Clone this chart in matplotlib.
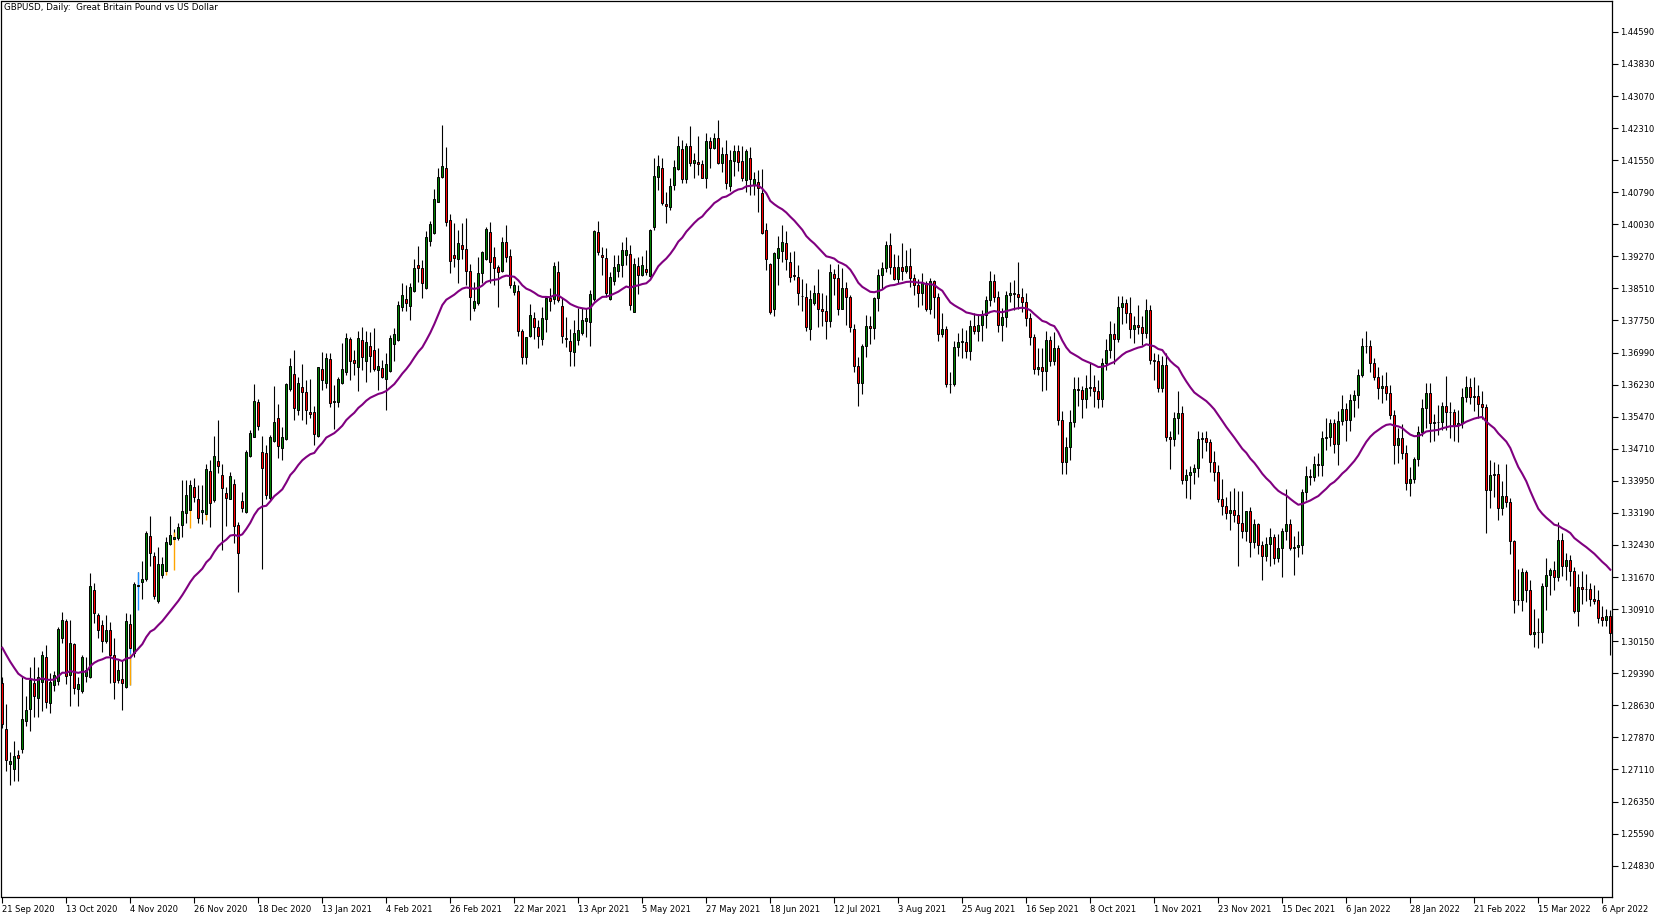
import numpy as np
import matplotlib
matplotlib.use('Agg')
import matplotlib.pyplot as plt

# GBPUSD daily candles (bar 0 = 21 Sep 2020)
chart_title = 'GBPUSD, Daily:  Great Britain Pound vs US Dollar'
date_labels = ['21 Sep 2020', '13 Oct 2020', '4 Nov 2020', '26 Nov 2020', '18 Dec 2020',
               '13 Jan 2021', '4 Feb 2021', '26 Feb 2021', '22 Mar 2021', '13 Apr 2021',
               '5 May 2021', '27 May 2021', '18 Jun 2021', '12 Jul 2021', '3 Aug 2021',
               '25 Aug 2021', '16 Sep 2021', '8 Oct 2021', '1 Nov 2021', '23 Nov 2021',
               '15 Dec 2021', '6 Jan 2022', '28 Jan 2022', '21 Feb 2022', '15 Mar 2022',
               '6 Apr 2022']

opens = [1.2917, 1.2807, 1.2725, 1.2712, 1.2745, 1.2760, 1.2827, 1.2854, 1.2915, 1.2880,
         1.2919, 1.2978, 1.2869, 1.2910, 1.2921, 1.3023, 1.3063, 1.2935, 1.3008, 1.2902,
         1.2898, 1.2933, 1.2931, 1.3136, 1.3077, 1.3053, 1.3016, 1.3041, 1.2982, 1.2923,
         1.2925, 1.2906, 1.3056, 1.2986, 1.3146, 1.3156, 1.3162, 1.3264, 1.3217, 1.3111,
         1.3173, 1.3181, 1.3245, 1.3258, 1.3260, 1.3290, 1.3318, 1.3326, 1.3380, 1.3351,
         1.3322, 1.3316, 1.3418, 1.3350, 1.3443, 1.3410, 1.3365, 1.3353, 1.3387, 1.3290,
         1.3347, 1.3320, 1.3455, 1.3500, 1.3581, 1.3464, 1.3462, 1.3354, 1.3490, 1.3545,
         1.3472, 1.3494, 1.3612, 1.3648, 1.3564, 1.3617, 1.3605, 1.3557, 1.3557, 1.3502,
         1.3659, 1.3626, 1.3683, 1.3583, 1.3583, 1.3628, 1.3654, 1.3731, 1.3681, 1.3664,
         1.3729, 1.3680, 1.3714, 1.3705, 1.3658, 1.3662, 1.3636, 1.3656, 1.3719, 1.3729,
         1.3808, 1.3826, 1.3810, 1.3846, 1.3907, 1.3899, 1.3851, 1.3964, 1.3982, 1.4057,
         1.4114, 1.4136, 1.4013, 1.3930, 1.3921, 1.3954, 1.3944, 1.3892, 1.3805, 1.3816,
         1.3887, 1.3921, 1.3984, 1.3925, 1.3901, 1.3892, 1.3960, 1.3928, 1.3842, 1.3846,
         1.3749, 1.3688, 1.3739, 1.3782, 1.3759, 1.3731, 1.3779, 1.3828, 1.3825, 1.3891,
         1.3810, 1.3734, 1.3727, 1.3701, 1.3729, 1.3745, 1.3774, 1.3772, 1.3827, 1.3984,
         1.3930, 1.3924, 1.3827, 1.3869, 1.3893, 1.3907, 1.3930, 1.3932, 1.3796, 1.3904,
         1.3883, 1.3897, 1.3881, 1.3997, 1.4116, 1.4136, 1.4051, 1.4043, 1.4095, 1.4133,
         1.4181, 1.4110, 1.4189, 1.4148, 1.4151, 1.4146, 1.4113, 1.4200, 1.4183, 1.4207,
         1.4148, 1.4170, 1.4094, 1.4154, 1.4177, 1.4153, 1.4108, 1.4159, 1.4096, 1.4104,
         1.4078, 1.3990, 1.3910, 1.3802, 1.3924, 1.3940, 1.3959, 1.3913, 1.3883, 1.3878,
         1.3834, 1.3830, 1.3754, 1.3817, 1.3839, 1.3803, 1.3797, 1.3774, 1.3885, 1.3876,
         1.3803, 1.3853, 1.3830, 1.3755, 1.3667, 1.3627, 1.3715, 1.3763, 1.3758, 1.3828,
         1.3883, 1.3899, 1.3955, 1.3902, 1.3874, 1.3902, 1.3892, 1.3904, 1.3875, 1.3858,
         1.3841, 1.3865, 1.3802, 1.3868, 1.3830, 1.3743, 1.3756, 1.3625, 1.3625, 1.3712,
         1.3725, 1.3725, 1.3703, 1.3762, 1.3751, 1.3764, 1.3789, 1.3824, 1.3868, 1.3831,
         1.3765, 1.3784, 1.3835, 1.3840, 1.3837, 1.3831, 1.3820, 1.3782, 1.3735, 1.3660,
         1.3665, 1.3655, 1.3729, 1.3678, 1.3710, 1.3540, 1.3440, 1.3475, 1.3534, 1.3612,
         1.3611, 1.3590, 1.3616, 1.3618, 1.3607, 1.3590, 1.3675, 1.3706, 1.3744, 1.3732,
         1.3806, 1.3817, 1.3793, 1.3754, 1.3765, 1.3760, 1.3745, 1.3800, 1.3682, 1.3679,
         1.3614, 1.3670, 1.3500, 1.3495, 1.3544, 1.3556, 1.3398, 1.3410, 1.3415, 1.3426,
         1.3494, 1.3496, 1.3486, 1.3440, 1.3415, 1.3353, 1.3336, 1.3318, 1.3327, 1.3315,
         1.3294, 1.3275, 1.3323, 1.3251, 1.3292, 1.3243, 1.3218, 1.3245, 1.3263, 1.3213,
         1.3236, 1.3275, 1.3292, 1.3235, 1.3238, 1.3244, 1.3369, 1.3406, 1.3404, 1.3434,
         1.3432, 1.3497, 1.3500, 1.3531, 1.3482, 1.3536, 1.3566, 1.3539, 1.3586, 1.3598,
         1.3647, 1.3714, 1.3714, 1.3675, 1.3640, 1.3615, 1.3620, 1.3604, 1.3552, 1.3480,
         1.3497, 1.3462, 1.3390, 1.3400, 1.3447, 1.3510, 1.3568, 1.3604, 1.3531, 1.3534,
         1.3535, 1.3572, 1.3558, 1.3559, 1.3527, 1.3532, 1.3594, 1.3618, 1.3593, 1.3595,
         1.3578, 1.3569, 1.3373, 1.3410, 1.3411, 1.3331, 1.3359, 1.3345, 1.3252, 1.3113,
         1.3112, 1.3178, 1.3136, 1.3033, 1.3036, 1.3036, 1.3146, 1.3172, 1.3183, 1.3166,
         1.3254, 1.3194, 1.3207, 1.3181, 1.3086, 1.3144, 1.3139, 1.3139, 1.3114, 1.3112,
         1.3072, 1.3066, 1.3075]
highs = [1.2930, 1.2866, 1.2753, 1.2778, 1.2757, 1.2931, 1.2884, 1.2953, 1.2977, 1.2953,
         1.2992, 1.3006, 1.2939, 1.2945, 1.3049, 1.3083, 1.3067, 1.3064, 1.3011, 1.2931,
         1.2982, 1.2978, 1.3176, 1.3152, 1.3081, 1.3064, 1.3077, 1.3061, 1.3023, 1.2970,
         1.2970, 1.3081, 1.3079, 1.3156, 1.3180, 1.3206, 1.3275, 1.3312, 1.3227, 1.3239,
         1.3215, 1.3263, 1.3312, 1.3280, 1.3294, 1.3397, 1.3397, 1.3397, 1.3401, 1.3385,
         1.3385, 1.3436, 1.3444, 1.3501, 1.3539, 1.3436, 1.3381, 1.3417, 1.3399, 1.3298,
         1.3369, 1.3468, 1.3516, 1.3624, 1.3589, 1.3501, 1.3480, 1.3504, 1.3620, 1.3576,
         1.3522, 1.3626, 1.3687, 1.3705, 1.3642, 1.3672, 1.3634, 1.3636, 1.3572, 1.3665,
         1.3701, 1.3699, 1.3699, 1.3622, 1.3640, 1.3721, 1.3745, 1.3735, 1.3705, 1.3749,
         1.3759, 1.3749, 1.3747, 1.3757, 1.3711, 1.3681, 1.3699, 1.3741, 1.3758, 1.3821,
         1.3865, 1.3859, 1.3863, 1.3921, 1.3952, 1.3918, 1.3988, 1.4011, 1.4087, 1.4137,
         1.4238, 1.4185, 1.4027, 1.4005, 1.3989, 1.4005, 1.4019, 1.3908, 1.3867, 1.3926,
         1.3940, 1.3997, 1.4008, 1.3950, 1.3906, 1.3974, 1.4001, 1.3944, 1.3869, 1.3859,
         1.3756, 1.3737, 1.3814, 1.3796, 1.3776, 1.3806, 1.3830, 1.3853, 1.3914, 1.3916,
         1.3829, 1.3784, 1.3756, 1.3776, 1.3805, 1.3804, 1.3804, 1.3847, 1.3989, 1.4011,
         1.3950, 1.3948, 1.3891, 1.3930, 1.3930, 1.3962, 1.3974, 1.3955, 1.3922, 1.3926,
         1.3929, 1.3942, 1.3991, 1.4161, 1.4167, 1.4159, 1.4079, 1.4112, 1.4155, 1.4213,
         1.4203, 1.4195, 1.4236, 1.4171, 1.4212, 1.4155, 1.4220, 1.4211, 1.4219, 1.4250,
         1.4185, 1.4203, 1.4179, 1.4191, 1.4192, 1.4189, 1.4181, 1.4185, 1.4128, 1.4132,
         1.4133, 1.4007, 1.3912, 1.3938, 1.3975, 1.4001, 1.3986, 1.3938, 1.3940, 1.3907,
         1.3873, 1.3863, 1.3847, 1.3859, 1.3897, 1.3840, 1.3836, 1.3908, 1.3898, 1.3909,
         1.3899, 1.3867, 1.3836, 1.3766, 1.3689, 1.3720, 1.3787, 1.3786, 1.3830, 1.3897,
         1.3913, 1.3963, 1.3983, 1.3933, 1.3931, 1.3958, 1.3942, 1.3948, 1.3886, 1.3874,
         1.3887, 1.3868, 1.3875, 1.3872, 1.3840, 1.3792, 1.3761, 1.3654, 1.3726, 1.3745,
         1.3757, 1.3752, 1.3777, 1.3792, 1.3790, 1.3800, 1.3834, 1.3892, 1.3886, 1.3845,
         1.3804, 1.3845, 1.3867, 1.3870, 1.3913, 1.3852, 1.3839, 1.3793, 1.3742, 1.3710,
         1.3710, 1.3749, 1.3739, 1.3748, 1.3718, 1.3561, 1.3498, 1.3563, 1.3640, 1.3641,
         1.3620, 1.3646, 1.3674, 1.3647, 1.3635, 1.3687, 1.3732, 1.3773, 1.3770, 1.3833,
         1.3834, 1.3825, 1.3830, 1.3786, 1.3811, 1.3786, 1.3826, 1.3812, 1.3697, 1.3696,
         1.3691, 1.3697, 1.3514, 1.3557, 1.3607, 1.3573, 1.3422, 1.3429, 1.3434, 1.3513,
         1.3510, 1.3513, 1.3495, 1.3465, 1.3432, 1.3399, 1.3357, 1.3372, 1.3377, 1.3371,
         1.3370, 1.3324, 1.3332, 1.3305, 1.3296, 1.3253, 1.3261, 1.3284, 1.3270, 1.3268,
         1.3283, 1.3375, 1.3305, 1.3265, 1.3276, 1.3375, 1.3429, 1.3422, 1.3453, 1.3460,
         1.3514, 1.3545, 1.3541, 1.3542, 1.3560, 1.3599, 1.3579, 1.3600, 1.3611, 1.3659,
         1.3734, 1.3749, 1.3729, 1.3686, 1.3665, 1.3646, 1.3652, 1.3623, 1.3563, 1.3520,
         1.3530, 1.3479, 1.3427, 1.3452, 1.3524, 1.3590, 1.3627, 1.3628, 1.3553, 1.3575,
         1.3582, 1.3644, 1.3583, 1.3565, 1.3563, 1.3615, 1.3644, 1.3639, 1.3642, 1.3623,
         1.3608, 1.3578, 1.3445, 1.3440, 1.3436, 1.3395, 1.3436, 1.3354, 1.3255, 1.3185,
         1.3188, 1.3183, 1.3161, 1.3092, 1.3070, 1.3153, 1.3212, 1.3188, 1.3205, 1.3298,
         1.3272, 1.3225, 1.3220, 1.3190, 1.3175, 1.3182, 1.3175, 1.3152, 1.3148, 1.3137,
         1.3098, 1.3092, 1.3090]
lows = [1.2810, 1.2708, 1.2673, 1.2684, 1.2684, 1.2749, 1.2815, 1.2803, 1.2836, 1.2835,
        1.2850, 1.2856, 1.2844, 1.2898, 1.2911, 1.3011, 1.2914, 1.2862, 1.2890, 1.2862,
        1.2891, 1.2919, 1.2927, 1.3057, 1.3022, 1.2990, 1.3010, 1.2915, 1.2877, 1.2915,
        1.2852, 1.2903, 1.2995, 1.2978, 1.3140, 1.3114, 1.3158, 1.3192, 1.3116, 1.3105,
        1.3164, 1.3247, 1.3243, 1.3255, 1.3255, 1.3263, 1.3294, 1.3326, 1.3346, 1.3294,
        1.3293, 1.3389, 1.3286, 1.3346, 1.3413, 1.3231, 1.3288, 1.3351, 1.3247, 1.3132,
        1.3320, 1.3318, 1.3451, 1.3498, 1.3516, 1.3185, 1.3353, 1.3350, 1.3488, 1.3450,
        1.3445, 1.3492, 1.3608, 1.3539, 1.3551, 1.3538, 1.3530, 1.3543, 1.3480, 1.3500,
        1.3610, 1.3616, 1.3569, 1.3519, 1.3571, 1.3624, 1.3646, 1.3634, 1.3646, 1.3609,
        1.3658, 1.3630, 1.3654, 1.3655, 1.3610, 1.3638, 1.3563, 1.3654, 1.3679, 1.3727,
        1.3798, 1.3798, 1.3775, 1.3843, 1.3867, 1.3829, 1.3850, 1.3952, 1.3980, 1.4055,
        1.4112, 1.4000, 1.3887, 1.3901, 1.3863, 1.3921, 1.3859, 1.3776, 1.3797, 1.3812,
        1.3863, 1.3918, 1.3863, 1.3859, 1.3808, 1.3891, 1.3914, 1.3851, 1.3835, 1.3739,
        1.3673, 1.3671, 1.3737, 1.3731, 1.3709, 1.3717, 1.3747, 1.3797, 1.3813, 1.3820,
        1.3722, 1.3713, 1.3668, 1.3668, 1.3717, 1.3741, 1.3737, 1.3715, 1.3822, 1.3930,
        1.3884, 1.3831, 1.3824, 1.3859, 1.3879, 1.3879, 1.3907, 1.3800, 1.3794, 1.3837,
        1.3881, 1.3884, 1.3879, 1.3989, 1.4084, 1.4049, 1.4005, 1.4037, 1.4084, 1.4132,
        1.4100, 1.4102, 1.4140, 1.4112, 1.4120, 1.4112, 1.4090, 1.4136, 1.4181, 1.4146,
        1.4128, 1.4086, 1.4083, 1.4118, 1.4129, 1.4106, 1.4080, 1.4072, 1.4072, 1.4033,
        1.3980, 1.3895, 1.3790, 1.3786, 1.3859, 1.3914, 1.3895, 1.3867, 1.3871, 1.3812,
        1.3798, 1.3751, 1.3729, 1.3812, 1.3760, 1.3761, 1.3731, 1.3760, 1.3836, 1.3789,
        1.3803, 1.3765, 1.3748, 1.3652, 1.3572, 1.3600, 1.3689, 1.3720, 1.3731, 1.3798,
        1.3849, 1.3891, 1.3885, 1.3870, 1.3864, 1.3870, 1.3888, 1.3855, 1.3835, 1.3806,
        1.3812, 1.3797, 1.3791, 1.3780, 1.3726, 1.3736, 1.3618, 1.3602, 1.3620, 1.3690,
        1.3686, 1.3685, 1.3681, 1.3744, 1.3727, 1.3727, 1.3758, 1.3810, 1.3818, 1.3747,
        1.3727, 1.3760, 1.3820, 1.3800, 1.3802, 1.3795, 1.3762, 1.3718, 1.3648, 1.3645,
        1.3609, 1.3610, 1.3667, 1.3670, 1.3528, 1.3412, 1.3411, 1.3444, 1.3522, 1.3572,
        1.3544, 1.3568, 1.3595, 1.3570, 1.3567, 1.3570, 1.3657, 1.3685, 1.3672, 1.3725,
        1.3767, 1.3769, 1.3733, 1.3721, 1.3743, 1.3718, 1.3733, 1.3671, 1.3635, 1.3605,
        1.3605, 1.3490, 1.3424, 1.3478, 1.3507, 1.3387, 1.3354, 1.3353, 1.3387, 1.3405,
        1.3448, 1.3466, 1.3415, 1.3395, 1.3346, 1.3315, 1.3305, 1.3279, 1.3297, 1.3194,
        1.3260, 1.3253, 1.3214, 1.3236, 1.3221, 1.3161, 1.3204, 1.3194, 1.3198, 1.3203,
        1.3168, 1.3255, 1.3230, 1.3172, 1.3215, 1.3222, 1.3350, 1.3386, 1.3394, 1.3406,
        1.3406, 1.3469, 1.3477, 1.3460, 1.3432, 1.3528, 1.3489, 1.3514, 1.3547, 1.3567,
        1.3640, 1.3697, 1.3653, 1.3634, 1.3589, 1.3579, 1.3587, 1.3542, 1.3435, 1.3437,
        1.3447, 1.3373, 1.3358, 1.3390, 1.3429, 1.3502, 1.3520, 1.3488, 1.3490, 1.3503,
        1.3516, 1.3516, 1.3497, 1.3490, 1.3488, 1.3520, 1.3583, 1.3578, 1.3560, 1.3544,
        1.3542, 1.3272, 1.3331, 1.3356, 1.3301, 1.3313, 1.3334, 1.3222, 1.3082, 1.3101,
        1.3087, 1.3107, 1.3029, 1.3001, 1.3000, 1.3010, 1.3088, 1.3124, 1.3136, 1.3157,
        1.3169, 1.3160, 1.3146, 1.3081, 1.3051, 1.3103, 1.3111, 1.3099, 1.3103, 1.3057,
        1.3050, 1.3052, 1.2982]
closes = [1.2818, 1.2733, 1.2730, 1.2743, 1.2739, 1.2830, 1.2852, 1.2923, 1.2884, 1.2929,
          1.2982, 1.2872, 1.2919, 1.2935, 1.3045, 1.3064, 1.2933, 1.3010, 1.2903, 1.2914,
          1.2978, 1.2947, 1.3146, 1.3081, 1.3042, 1.3016, 1.3041, 1.2982, 1.2919, 1.2947,
          1.2917, 1.3063, 1.2998, 1.3151, 1.3148, 1.3162, 1.3271, 1.3223, 1.3122, 1.3199,
          1.3199, 1.3249, 1.3267, 1.3262, 1.3286, 1.3324, 1.3361, 1.3385, 1.3356, 1.3306,
          1.3326, 1.3423, 1.3343, 1.3454, 1.3431, 1.3377, 1.3355, 1.3406, 1.3289, 1.3223,
          1.3330, 1.3464, 1.3509, 1.3584, 1.3526, 1.3426, 1.3361, 1.3500, 1.3535, 1.3478,
          1.3498, 1.3624, 1.3667, 1.3568, 1.3628, 1.3606, 1.3564, 1.3554, 1.3506, 1.3664,
          1.3635, 1.3685, 1.3579, 1.3585, 1.3636, 1.3660, 1.3733, 1.3680, 1.3675, 1.3734,
          1.3689, 1.3723, 1.3692, 1.3660, 1.3667, 1.3642, 1.3672, 1.3733, 1.3743, 1.3812,
          1.3835, 1.3816, 1.3854, 1.3899, 1.3900, 1.3865, 1.3972, 1.4003, 1.4063, 1.4114,
          1.4141, 1.4008, 1.3917, 1.3924, 1.3958, 1.3944, 1.3893, 1.3830, 1.3821, 1.3887,
          1.3938, 1.3993, 1.3914, 1.3900, 1.3891, 1.3960, 1.3925, 1.3859, 1.3859, 1.3749,
          1.3688, 1.3735, 1.3788, 1.3760, 1.3739, 1.3782, 1.3829, 1.3822, 1.3903, 1.3824,
          1.3738, 1.3731, 1.3703, 1.3745, 1.3752, 1.3776, 1.3782, 1.3838, 1.3987, 1.3937,
          1.3926, 1.3839, 1.3877, 1.3901, 1.3909, 1.3942, 1.3942, 1.3812, 1.3909, 1.3884,
          1.3907, 1.3891, 1.3989, 1.4117, 1.4141, 1.4054, 1.4047, 1.4094, 1.4138, 1.4189,
          1.4110, 1.4189, 1.4148, 1.4155, 1.4146, 1.4113, 1.4200, 1.4183, 1.4207, 1.4148,
          1.4170, 1.4102, 1.4155, 1.4177, 1.4151, 1.4112, 1.4177, 1.4110, 1.4110, 1.4088,
          1.3982, 1.3920, 1.3794, 1.3936, 1.3948, 1.3960, 1.3920, 1.3877, 1.3880, 1.3841,
          1.3832, 1.3760, 1.3827, 1.3839, 1.3803, 1.3797, 1.3774, 1.3891, 1.3876, 1.3803,
          1.3853, 1.3830, 1.3759, 1.3667, 1.3627, 1.3715, 1.3763, 1.3758, 1.3828, 1.3883,
          1.3899, 1.3955, 1.3902, 1.3874, 1.3902, 1.3892, 1.3904, 1.3875, 1.3858, 1.3841,
          1.3865, 1.3802, 1.3868, 1.3830, 1.3743, 1.3756, 1.3625, 1.3625, 1.3712, 1.3725,
          1.3725, 1.3703, 1.3762, 1.3751, 1.3764, 1.3789, 1.3824, 1.3868, 1.3831, 1.3765,
          1.3784, 1.3835, 1.3840, 1.3837, 1.3831, 1.3820, 1.3782, 1.3735, 1.3660, 1.3665,
          1.3655, 1.3729, 1.3678, 1.3710, 1.3540, 1.3440, 1.3475, 1.3534, 1.3612, 1.3611,
          1.3590, 1.3616, 1.3618, 1.3607, 1.3590, 1.3675, 1.3706, 1.3744, 1.3732, 1.3806,
          1.3817, 1.3793, 1.3754, 1.3765, 1.3760, 1.3745, 1.3800, 1.3682, 1.3679, 1.3614,
          1.3670, 1.3500, 1.3495, 1.3544, 1.3556, 1.3398, 1.3410, 1.3415, 1.3426, 1.3494,
          1.3496, 1.3486, 1.3440, 1.3415, 1.3353, 1.3336, 1.3318, 1.3327, 1.3315, 1.3294,
          1.3275, 1.3323, 1.3251, 1.3292, 1.3243, 1.3218, 1.3245, 1.3263, 1.3213, 1.3236,
          1.3275, 1.3292, 1.3235, 1.3238, 1.3244, 1.3369, 1.3406, 1.3404, 1.3434, 1.3432,
          1.3497, 1.3500, 1.3531, 1.3482, 1.3536, 1.3566, 1.3539, 1.3586, 1.3598, 1.3647,
          1.3714, 1.3714, 1.3675, 1.3640, 1.3615, 1.3620, 1.3604, 1.3552, 1.3480, 1.3497,
          1.3462, 1.3390, 1.3400, 1.3447, 1.3510, 1.3568, 1.3604, 1.3531, 1.3534, 1.3535,
          1.3572, 1.3558, 1.3559, 1.3527, 1.3532, 1.3594, 1.3618, 1.3593, 1.3595, 1.3578,
          1.3569, 1.3373, 1.3410, 1.3411, 1.3331, 1.3359, 1.3345, 1.3252, 1.3113, 1.3112,
          1.3178, 1.3136, 1.3033, 1.3036, 1.3036, 1.3146, 1.3172, 1.3183, 1.3166, 1.3254,
          1.3194, 1.3207, 1.3181, 1.3086, 1.3144, 1.3139, 1.3139, 1.3114, 1.3111, 1.3070,
          1.3066, 1.3074, 1.3034]

# odd coloured strokes on a few Nov 2020 candles (bar, low, high, colour)
accent_bar = [32, 32, 34, 41, 41, 43, 47, 51, 51]
accent_low = [1.2910, 1.2910, 1.3089, 1.3182, 1.3172, 1.3184, 1.3283, 1.3316, 1.3301]
accent_high = [1.3002, 1.2984, 1.3178, 1.3247, 1.3182, 1.3273, 1.3326, 1.3389, 1.3316]
accent_color = ['#1e90ff', '#ffa500', '#1e90ff', '#1e90ff', '#ffa500', '#ffa500',
                '#ffa500', '#1e90ff', '#ffa500']

ema_period = 30
ema_seed = 1.3012   # MA level just before the first visible bar

W, H = 1665, 919
fig = plt.figure(figsize=(W / 100, H / 100), dpi=100)
ax = fig.add_axes([1.5 / W, 22 / H, (1612.3 - 1.5) / W, 896 / H])

o = np.array(opens)
h = np.array(highs)
l = np.array(lows)
c = np.array(closes)
x = np.arange(len(c))

# wicks
ax.vlines(x, l, h, color='black', lw=0.8, zorder=2)
for i, lo, hi, col in zip(accent_bar, accent_low, accent_high, accent_color):
    ax.vlines(i, lo, hi, color=col, lw=1.0, zorder=3)

# bodies
bull = c >= o
bot = np.minimum(o, c)
hgt = np.maximum(np.abs(c - o), 0.00006)
ax.bar(x[bull], hgt[bull], bottom=bot[bull], width=0.5, color='#008000',
       edgecolor='black', lw=0.7, zorder=4)
ax.bar(x[~bull], hgt[~bull], bottom=bot[~bull], width=0.5, color='#ff0000',
       edgecolor='black', lw=0.7, zorder=4)

# exponential moving average
alpha = 2.0 / (ema_period + 1)
ema = []
prev = ema_seed
for v in c:
    prev = prev + alpha * (v - prev)
    ema.append(prev)
ax.plot(x, ema, color='#800080', lw=1.5, zorder=5)

ax.set_xlim(-0.2, 402.5)
ax.set_ylim(1.24087, 1.45322)

yt = [1.24830 + 0.0076 * k for k in range(27)]
ax.yaxis.tick_right()
ax.set_yticks(yt)
ax.set_yticklabels(['%.5f' % v for v in yt])
ax.set_xticks(range(0, 16 * len(date_labels), 16))
ax.set_xticklabels(date_labels, ha='left')
ax.tick_params(axis='both', direction='out', length=4, width=0.8, labelsize=6.0,
               colors='black', pad=1.5)
for s in ax.spines.values():
    s.set_linewidth(0.9)
    s.set_color('black')

fig.text(4 / W, 1 - 8 / H, chart_title, fontsize=6.3, ha='left', va='center')

fig.savefig('out.png', dpi=100, facecolor='white')
